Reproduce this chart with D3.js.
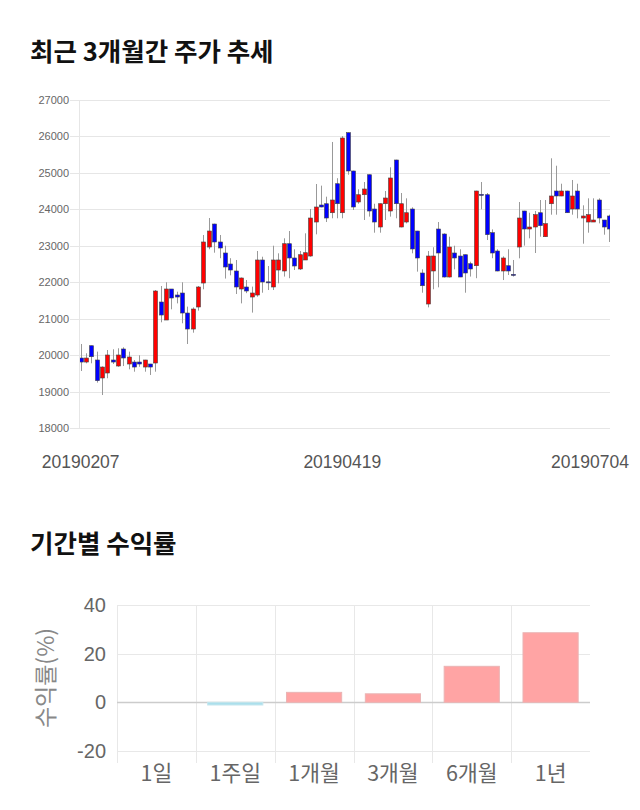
<!DOCTYPE html>
<html><head><meta charset="utf-8">
<script src="https://cdn.jsdelivr.net/npm/d3@7"></script>
<style>body{margin:0;background:#fff;}svg{display:block}</style>
</head><body><svg id="c" width="640" height="810"></svg>
<script>
// ---- Candlestick data (100 trading days) ----
const openP  = [19920,19810,20258,19866,19372,19509,19866,19701,20168,19756,19810,19810,19673,19756,19783,21457,20963,21814,21649,21704,21155,20716,21320,21978,22966,23597,23104,22802,22500,22308,21814,21869,21594,21649,22610,22010,21869,22335,22308,23057,22665,22363,22610,22719,23652,24119,24154,23907,24703,23907,26103,25052,24201,24401,24950,24009,23515,24154,23954,25354,23515,23652,24009,23405,22253,21402,22308,23460,23323,22143,22802,22719,22755,22508,22453,24410,24401,23359,22857,22308,22453,22215,22966,23954,23460,23515,23907,23249,24154,24503,24366,24503,24009,24503,23762,23652,23652,24256,23707,23817];
const highP  = [20305,20050,20260,20095,19690,20140,20160,20187,20214,20095,19866,19995,19870,19760,21786,21896,21998,21814,21740,21998,21330,21310,21896,23296,23762,23606,23296,23002,22659,22610,22130,22060,21880,22857,22700,22445,23002,22793,23205,23405,22904,22857,23342,24009,24695,24650,24347,25848,24854,26012,26110,25060,24550,24750,24955,24154,24160,24503,25153,25360,24448,24302,24055,23410,22354,22857,22960,23652,23342,23249,23002,22904,22760,22563,24510,24750,24448,23450,22904,22710,22904,22610,24201,23960,23907,23954,24256,24256,25400,25197,24703,24510,24805,24703,24110,24302,24302,24302,23710,23853];
const lowP   = [19564,19775,19775,19245,18905,19365,19756,19680,19700,19610,19545,19680,19545,19455,19545,20900,20963,21257,21420,20873,20305,20615,21220,21806,22904,22810,22659,22100,22190,21677,21420,21700,21166,21603,21712,21786,21786,21970,22155,22110,22335,22335,22610,22700,23314,24055,23652,23754,23754,23754,24950,23982,24154,23707,23800,23359,23359,23707,23800,23754,23505,23615,22793,22290,21712,21310,21806,21860,22130,22130,22354,22140,21712,22155,22110,24000,23158,22659,22300,22060,22198,22155,22656,23004,23205,22802,23249,23240,23853,23853,24360,23900,23853,23754,23057,23359,23652,23615,23304,23104];
const closeP = [19810,19920,19956,19298,19673,20003,19810,20003,19921,19948,19673,19756,19866,19673,21759,21100,21814,21567,21594,21155,20716,21265,21869,23104,23405,23104,22939,22418,22335,21869,22116,21759,21704,22610,22006,21995,22610,22610,23057,22665,22445,22755,22810,23762,24064,24064,23762,24256,24154,25957,25052,24064,24401,24558,23954,23652,24154,24311,24860,24154,24154,23907,22912,22665,21904,22719,22719,22802,22143,22966,22665,22143,22253,22363,24503,24395,23304,22802,22308,22665,22308,22200,23762,23460,23515,23853,23551,23606,24366,24366,24503,23907,24366,24009,23817,23853,23707,23762,23515,23460];
const priceTicks = [27000,26000,25000,24000,23000,22000,21000,20000,19000,18000];
const dateTickLabels = ["20190207","20190419","20190704"];
const dateTickIndex = [0,49,99];

// ---- Returns data ----
const periods = ["1일","1주일","1개월","3개월","6개월","1년"];
const returns = [0,-1.1,4.1,3.5,14.8,28.6];
const returnTicks = [40,20,0,-20];

const svg = d3.select("#c");
const KFONT = "'Noto Sans CJK KR','Noto Sans',sans-serif";
const LFONT = "'Liberation Sans',Arial,sans-serif";

// ---------- Titles ----------
svg.append("text").attr("x",30).attr("y",61).text("최근 3개월간 주가 추세")
  .attr("font-family",KFONT).attr("font-weight","bold").attr("font-size",25.5).attr("fill","#111");
svg.append("text").attr("x",30).attr("y",553).text("기간별 수익률")
  .attr("font-family",KFONT).attr("font-weight","bold").attr("font-size",25.5).attr("fill","#111");

// ---------- Candlestick chart ----------
const idx = d3.range(openP.length);
const x = d3.scaleBand().domain(idx).range([78,612]);
const y = d3.scaleLinear().domain([18000,27000]).range([428,100]);
const plotL = 80, plotR = 610;

const g1 = svg.append("g");
g1.selectAll("line.grid").data(priceTicks).join("line")
  .attr("x1",70).attr("x2",plotR).attr("y1",d=>Math.round(y(d))+0.5).attr("y2",d=>Math.round(y(d))+0.5)
  .attr("stroke","#e6e6e6").attr("stroke-width",1);
g1.append("line").attr("x1",79.5).attr("x2",79.5).attr("y1",y(27000)).attr("y2",y(18000))
  .attr("stroke","#e6e6e6");
g1.selectAll("text.yt").data(priceTicks).join("text")
  .attr("x",69).attr("y",d=>y(d)+4).attr("text-anchor","end").text(d=>d)
  .attr("font-family",LFONT).attr("font-size",11).attr("fill","#666");

svg.append("clipPath").attr("id","pc").append("rect")
  .attr("x",plotL).attr("y",90).attr("width",plotR-plotL).attr("height",350);
const cg = g1.append("g").attr("clip-path","url(#pc)");
const cx = i => x(i) + x.bandwidth()/2;
cg.selectAll("line.wick").data(idx).join("line")
  .attr("x1",i=>Math.round(cx(i))+0.5).attr("x2",i=>Math.round(cx(i))+0.5)
  .attr("y1",i=>y(highP[i])).attr("y2",i=>y(lowP[i]))
  .attr("stroke","#999").attr("stroke-width",1);
cg.selectAll("rect.body").data(idx).join("rect")
  .attr("x",i=>Math.round(cx(i))-1.5)
  .attr("width",4)
  .attr("y",i=>y(Math.max(openP[i],closeP[i])))
  .attr("height",i=>Math.max(1,Math.abs(y(openP[i])-y(closeP[i]))))
  .attr("fill",i=>closeP[i]>=openP[i]?"#ff0000":"#0000ff")
  .attr("stroke","#444").attr("stroke-width",0.6);

const dtx = dateTickIndex.map((k,j)=>({k,label:dateTickLabels[j]}));
g1.selectAll("text.xt").data(dtx).join("text")
  .attr("x",d=>Math.min(cx(d.k), 630-40)).attr("y",468).attr("text-anchor","middle")
  .text(d=>d.label).attr("font-family",LFONT).attr("font-size",17.5).attr("fill","#555");

// ---------- Returns bar chart ----------
const bx = d3.scaleBand().domain(periods).range([117,590]).paddingInner(0.3).paddingOuter(0.15);
const by = d3.scaleLinear().domain([-20,40]).range([751,605]);
const g2 = svg.append("g");
const step = bx.step();
const vlines = d3.range(periods.length).map(k=>117+k*step);
g2.selectAll("line.vg").data(vlines).join("line")
  .attr("x1",d=>Math.round(d)+0.5).attr("x2",d=>Math.round(d)+0.5).attr("y1",605).attr("y2",763)
  .attr("stroke","#e8e8e8");
g2.selectAll("line.hg").data(returnTicks).join("line")
  .attr("x1",117).attr("x2",590).attr("y1",d=>Math.round(by(d))+0.5).attr("y2",d=>Math.round(by(d))+0.5)
  .attr("stroke",d=>d===0?"#cccccc":"#e8e8e8").attr("stroke-width",d=>d===0?1.5:1);
g2.selectAll("text.yt").data(returnTicks).join("text")
  .attr("x",106).attr("y",d=>by(d)+7).attr("text-anchor","end").text(d=>d)
  .attr("font-family",LFONT).attr("font-size",20).attr("fill","#666");
g2.selectAll("rect.bar").data(periods).join("rect")
  .attr("x",p=>bx(p)).attr("width",bx.bandwidth())
  .attr("y",(p,i)=>by(Math.max(0,returns[i])))
  .attr("height",(p,i)=>Math.abs(by(returns[i])-by(0)))
  .attr("fill",(p,i)=>returns[i]>=0?"#ffa4a4":"#abdfec")
  .attr("stroke",(p,i)=>returns[i]>=0?"#eab4b4":"#c5e6ee").attr("stroke-width",1);
g2.selectAll("text.xt").data(periods).join("text")
  .attr("x",p=>bx(p)+bx.bandwidth()/2).attr("y",781).attr("text-anchor","middle").text(p=>p)
  .attr("font-family",KFONT).attr("font-size",21.5).attr("fill","#666");
svg.append("text").attr("transform","translate(54,678) rotate(-90)").attr("text-anchor","middle")
  .text("수익률(%)").attr("font-family",KFONT).attr("font-size",23).attr("fill","#888");
</script></body></html>
